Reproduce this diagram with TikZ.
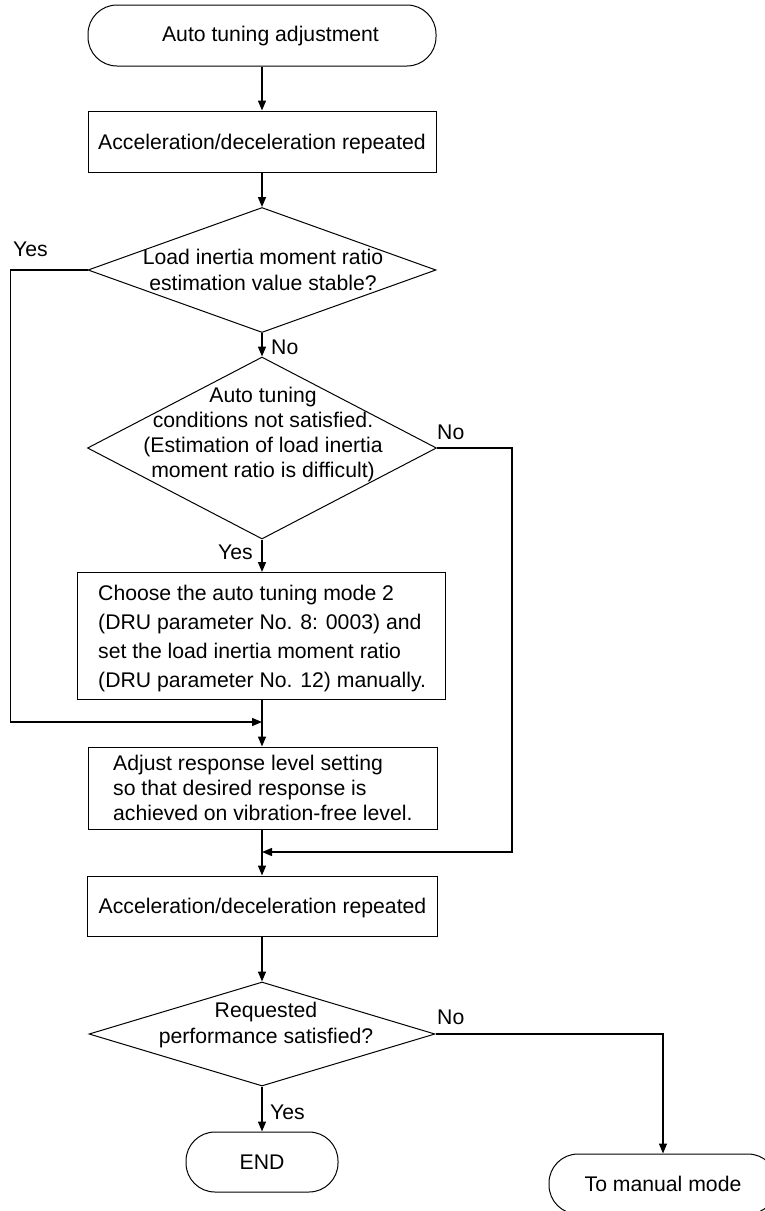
\documentclass[tikz,border=0pt]{standalone}
\usepackage{fontspec}
\setmainfont{Liberation Sans}
\usetikzlibrary{shapes.geometric,arrows.meta}
\begin{document}
\begin{tikzpicture}[x=1pt,y=-1pt,
  font=\fontsize{21.2}{25.5}\selectfont,
  shapeline/.style={draw=black,line width=1pt},
  term/.style={shapeline, rectangle, rounded corners=29pt, minimum height=61pt, inner sep=0pt, text depth=0pt},
  procbox/.style={shapeline, rectangle, inner sep=0pt, text depth=0pt},
  decis/.style={shapeline, diamond, inner sep=0pt},
  txt/.style={inner sep=0pt, align=center},
  lefttxt/.style={inner sep=0pt, align=left, anchor=west},
  lbl/.style={inner sep=0pt, anchor=west},
  flow/.style={line width=1.5pt, -{Triangle[length=10pt,width=8pt]}},
]
\useasboundingbox (0,0) rectangle (765,1211);
\clip (0,0) rectangle (765,1211);

% nodes
\node[term, minimum width=348pt] (t1) at (262,35.5) {};
\node[txt] (t1txt) at (270.5,36) {Auto tuning adjustment};

\node[procbox, minimum width=348pt, minimum height=61pt] (b1) at (262,141.5) {Acceleration/deceleration repeated};

\node[decis, minimum width=348pt, minimum height=125pt] (d1) at (262,270) {};
\node[txt, font=\fontsize{21.2}{26}\selectfont] (d1txt) at (263,270) {Load inertia moment ratio\\estimation value stable?};

\node[decis, minimum width=349pt, minimum height=182pt] (d2) at (262,448) {};
\node[txt, font=\fontsize{21.2}{25}\selectfont] (d2txt) at (263,434.5) {Auto tuning\\conditions not satisfied.\\(Estimation of load inertia\\moment ratio is difficult)};

\node[procbox, minimum width=368pt, minimum height=127pt] (b2) at (261,636) {};
\node[lefttxt, font=\fontsize{21.2}{28.7}\selectfont] (b2txt) at (98,638.5) {Choose the auto tuning mode 2\\(DRU parameter No. 8: 0003) and\\set the load inertia moment ratio\\(DRU parameter No. 12) manually.};

\node[procbox, minimum width=349pt, minimum height=82pt] (b3) at (262.5,788) {};
\node[lefttxt, font=\fontsize{21.2}{25}\selectfont] (b3txt) at (113,788) {Adjust response level setting\\so that desired response is\\achieved on vibration-free level.};

\node[procbox, minimum width=350pt, minimum height=60pt] (b4) at (262.5,906) {Acceleration/deceleration repeated};

\node[decis, minimum width=346pt, minimum height=104pt] (d3) at (262,1034) {};
\node[txt, font=\fontsize{21.2}{26}\selectfont] (d3txt) at (266,1025) {Requested\\performance satisfied?};

\node[term, minimum width=152pt, minimum height=60pt] (t2) at (262,1162) {END};
\node[term, minimum width=228pt, minimum height=60pt] (t3) at (663,1184) {To manual mode};

\coordinate (m1) at (262,722);
\coordinate (m2) at (262,852);

% connectors (kept vertical on the main axis x = 262)
\draw[flow] (t1.south) -- (t1.south |- b1.north);
\draw[flow] (b1.south) -- (b1.south |- d1.north);
\draw[flow] (d1.south) -- (d1.south |- d2.north);
\draw[flow] (d2.south) -- (d2.south |- b2.north);
\draw[flow] (d2.south |- b2.south) -- (d2.south |- b3.north);
\draw[flow] (d2.south |- b3.south) -- (d2.south |- b4.north);
\draw[flow] (d2.south |- b4.south) -- (d3.north);
\draw[flow] (d3.south) -- (t2.north);
\draw[flow, line width=1.3pt] (d1.west) -- ++(-77,0) |- (m1);
\draw[flow, line width=1.3pt] (d2.east) -- ++(75,0) |- (m2);
\draw[flow, line width=1.3pt] (d3.east) -| (t3.north);

% labels
\node[lbl] (y1) at (13,249) {Yes};
\node[lbl] (n1) at (271,347) {No};
\node[lbl] (n2) at (437,432) {No};
\node[lbl] (y2) at (218,552) {Yes};
\node[lbl] (n3) at (437,1017) {No};
\node[lbl] (y3) at (270,1112) {Yes};
\end{tikzpicture}
\end{document}
